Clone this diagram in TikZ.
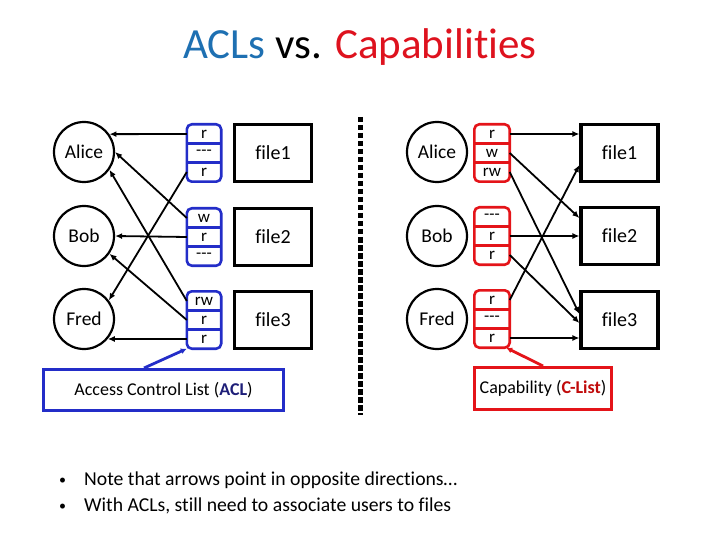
\documentclass[tikz,border=0pt]{standalone}
\usepackage{fontspec}
\setmainfont{Carlito}[Ligatures={TeX,NoCommon}]
\usetikzlibrary{arrows.meta,calc}
\definecolor{aclblue}{RGB}{35,45,200}
\definecolor{capred}{RGB}{228,20,25}
\definecolor{titleblue}{RGB}{30,112,178}
\definecolor{titlered}{RGB}{222,18,30}
\definecolor{navyacl}{RGB}{30,30,120}
\definecolor{darkcap}{RGB}{192,10,10}
\newcommand{\smallbul}{\makebox[27pt][l]{\hspace{2pt}\raisebox{0.5pt}{\fontsize{14}{14}\selectfont •}}}
\begin{document}
\begin{tikzpicture}[x=1pt,y=-1pt,
  user/.style={circle, draw, line width=2.2pt, minimum size=60pt, inner sep=0pt, font=\fontsize{19.5}{21}\selectfont},
  filebox/.style={rectangle, draw, line width=3.2pt, minimum width=77pt, minimum height=57pt, inner sep=0pt, font=\fontsize{20}{22}\selectfont},
  rowcell/.style={rectangle, minimum width=34pt, minimum height=19pt, inner sep=0pt, font=\fontsize{17}{18}\selectfont},
  capcell/.style={rowcell, minimum width=35pt},
  aclframe/.style={draw=aclblue, line width=2.6pt},
  capframe/.style={draw=capred, line width=2.6pt},
  link/.style={line width=1.8pt, -{Latex[length=7pt,width=6pt]}},
  note/.style={rectangle, line width=3pt, inner sep=0pt, font=\fontsize{18}{20}\selectfont},
  bullettext/.style={anchor=base west, inner sep=0pt, font=\fontsize{19.7}{22}\selectfont}
]
\useasboundingbox (0,0) rectangle (720,540);

% title
\node[font=\fontsize{43}{48}\selectfont] (title) at (360,47)
  {\textcolor{titleblue}{ACLs} vs. \textcolor{titlered}{Capabilities}};

% ---------- left: ACLs ----------
\node[user] (alice) at (84,152) {Alice};
\node[user] (bob)   at (84,236) {Bob};
\node[user] (fred)  at (84,319) {Fred};

\node[rowcell] (a1-1) at (204,134) {r};
\node[rowcell] (a1-2) at (204,153) {-{}-{}-};
\node[rowcell] (a1-3) at (204,172) {r};
\node[rowcell] (a2-1) at (204,218) {w};
\node[rowcell] (a2-2) at (204,237) {r};
\node[rowcell] (a2-3) at (204,256) {-{}-{}-};
\node[rowcell] (a3-1) at (204,301) {rw};
\node[rowcell] (a3-2) at (204,320) {r};
\node[rowcell] (a3-3) at (204,339) {r};
\foreach \bx in {a1,a2,a3}{
  \draw[aclframe, rounded corners=5pt] (\bx-1.north west) rectangle (\bx-3.south east);
  \draw[aclframe] (\bx-1.south west) -- (\bx-1.south east) (\bx-2.south west) -- (\bx-2.south east);
}

\node[filebox] (lf1) at (273,153) {file1};
\node[filebox] (lf2) at (273,237) {file2};
\node[filebox] (lf3) at (273,320) {file3};

\draw[link] (a1-1.west) -- (alice.35);
\draw[link] (a1-3.west) -- (fred.37);
\draw[link] (a2-1.west) -- (alice.0);
\draw[link] (a2-2.west) -- (bob.0);
\draw[link] (a3-1.west) -- (alice.-35);
\draw[link] (a3-2.west) -- (bob.-35);
\draw[link] (a3-3.west) -- (fred.-40);

\node[note, draw=aclblue, minimum width=240pt, minimum height=41pt] (acllabel) at (163.5,390)
  {Access Control List (\textbf{\textcolor{navyacl}{ACL}})};
\draw[draw=aclblue, line width=2.8pt, -{Latex[length=6pt,width=6pt]}]
  ($(acllabel.north west)!0.42!(acllabel.north east)$) -- (a3-3.south west);

% separator
\coordinate (septop) at (360,117);
\coordinate (sepbot) at (360,415);
\draw[line width=5pt, dash pattern=on 5.5pt off 2.5pt] (septop) -- (sepbot);

% ---------- right: capabilities ----------
\node[user] (ralice) at (437,152) {Alice};
\node[user] (rbob)   at (437,236) {Bob};
\node[user] (rfred)  at (437,319) {Fred};

\node[capcell] (c1-1) at (492,134) {r};
\node[capcell] (c1-2) at (492,153) {w};
\node[capcell] (c1-3) at (492,172) {rw};
\node[capcell] (c2-1) at (492,217) {-{}-{}-};
\node[capcell] (c2-2) at (492,236) {r};
\node[capcell] (c2-3) at (492,255) {r};
\node[capcell] (c3-1) at (492,300) {r};
\node[capcell] (c3-2) at (492,319) {-{}-{}-};
\node[capcell] (c3-3) at (492,338) {r};
\foreach \bx in {c1,c2,c3}{
  \draw[capframe, rounded corners=5pt] (\bx-1.north west) rectangle (\bx-3.south east);
  \draw[capframe] (\bx-1.south west) -- (\bx-1.south east) (\bx-2.south west) -- (\bx-2.south east);
}

\node[filebox] (rf1) at (619.5,153) {file1};
\node[filebox] (rf2) at (619.5,236) {file2};
\node[filebox] (rf3) at (619.5,320) {file3};

\draw[link] (c1-1.east) -- (rf1.west |- c1-1);
\draw[link] (c1-2.east) -- ([yshift=18pt]rf2.west);
\draw[link] (c1-3.east) -- ([yshift=6pt]rf3.west);
\draw[link] (c2-2.east) -- (rf2.west |- c2-2);
\draw[link] (c2-3.east) -- ([yshift=-3pt]rf3.west);
\draw[link] (c3-1.east) -- ([yshift=-12pt]rf1.west);
\draw[link] (c3-3.east) -- (rf3.west |- c3-3);

\node[note, draw=capred, minimum width=137pt, minimum height=42pt] (caplabel) at (543,388.5)
  {Capability (\textbf{\textcolor{darkcap}{C-List}})};
\draw[draw=capred, line width=2.8pt, -{Latex[length=6pt,width=6pt]}]
  (caplabel.north) -- ($(c3-3.south west)!0.9!(c3-3.south east)$);

% bullets
\node[bullettext] (note1) at (57,485) {\smallbul Note that arrows point in opposite directions…};
\node[bullettext] (note2) at (57,511) {\smallbul With ACLs, still need to associate users to files};
\end{tikzpicture}
\end{document}
